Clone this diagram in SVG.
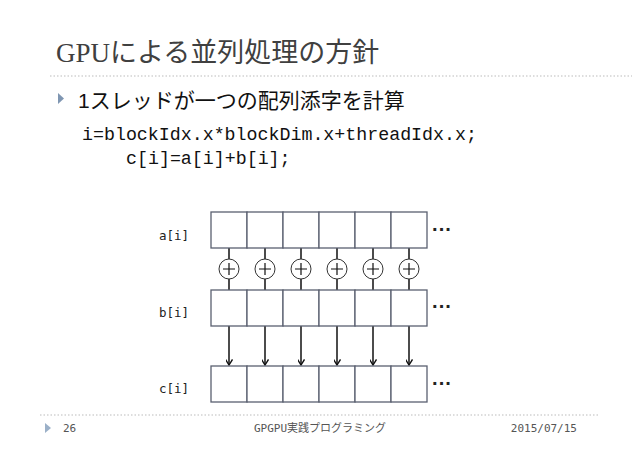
<svg xmlns="http://www.w3.org/2000/svg" width="638" height="452" viewBox="0 0 638 452">
<style>
.cell{fill:#fff;stroke:#5a6070;stroke-width:1.3}
.ln{stroke:#111;stroke-width:1.5;fill:none}
.lbl{font-family:"DejaVu Sans Mono","Liberation Mono",monospace;font-size:12.5px;fill:#222}
.dots{font-family:"Liberation Sans",sans-serif;font-size:20px;font-weight:bold;fill:#222}
.ft{font-family:"DejaVu Sans Mono","Noto Sans CJK JP",monospace;font-size:11px;fill:#555}
</style>
<defs>
<marker id="ah" viewBox="0 0 10 10" refX="9" refY="5" markerWidth="7" markerHeight="7" orient="auto" markerUnits="userSpaceOnUse"><path d="M1,0 L9,5 L1,10" fill="none" stroke="#111" stroke-width="2"/></marker>
<g id="row"><rect class="cell" x="0" y="0" width="36" height="36"/><rect class="cell" x="36" y="0" width="36" height="36"/><rect class="cell" x="72" y="0" width="36" height="36"/><rect class="cell" x="108" y="0" width="36" height="36"/><rect class="cell" x="144" y="0" width="36" height="36"/><rect class="cell" x="180" y="0" width="36" height="36"/></g>
</defs>
<rect width="638" height="452" fill="#fff"/>
<text x="56" y="62" font-family="Liberation Serif,Noto Sans CJK JP,serif" font-size="27" fill="#404040">GPUによる並列処理の方針</text>
<line x1="50" y1="76" x2="632" y2="76" stroke="#bbb" stroke-dasharray="1.5,2"/>
<path d="M58,93 L64,98.5 L58,104 Z" fill="#7f96b2"/>
<text x="78" y="108" font-family="Liberation Sans,Noto Sans CJK JP,sans-serif" font-size="21" fill="#111">1スレッドが一つの配列添字を計算</text>
<text x="82" y="140" font-family="Liberation Mono,DejaVu Sans Mono,monospace" font-size="18.3" fill="#111">i=blockIdx.x*blockDim.x+threadIdx.x;</text>
<text x="126" y="164" font-family="Liberation Mono,DejaVu Sans Mono,monospace" font-size="18.3" fill="#111">c[i]=a[i]+b[i];</text>
<g id="connectors">
<path class="ln" d="M229,248V259M229,279V290M265,248V259M265,279V290M301,248V259M301,279V290M337,248V259M337,279V290M373,248V259M373,279V290M409,248V259M409,279V290"/>
<path class="ln" d="M229,326V365" marker-end="url(#ah)"/><path class="ln" d="M265,326V365" marker-end="url(#ah)"/><path class="ln" d="M301,326V365" marker-end="url(#ah)"/><path class="ln" d="M337,326V365" marker-end="url(#ah)"/><path class="ln" d="M373,326V365" marker-end="url(#ah)"/><path class="ln" d="M409,326V365" marker-end="url(#ah)"/>
</g>
<g id="a"><text class="lbl" x="159" y="240">a[i]</text><use href="#row" x="211" y="212"/><text class="dots" x="432" y="236">···</text></g>
<g id="plus">
<g fill="#fff" stroke="#333" stroke-width="1"><circle cx="229" cy="269" r="10"/><circle cx="265" cy="269" r="10"/><circle cx="301" cy="269" r="10"/><circle cx="337" cy="269" r="10"/><circle cx="373" cy="269" r="10"/><circle cx="409" cy="269" r="10"/></g>
<path stroke="#111" stroke-width="1.2" d="M223,269h12M229,263v12M259,269h12M265,263v12M295,269h12M301,263v12M331,269h12M337,263v12M367,269h12M373,263v12M403,269h12M409,263v12"/>
</g>
<g id="b"><text class="lbl" x="159" y="317">b[i]</text><use href="#row" x="211" y="290"/><text class="dots" x="432" y="313">···</text></g>
<g id="c"><text class="lbl" x="159" y="393">c[i]</text><use href="#row" x="211" y="366"/><text class="dots" x="432" y="390">···</text></g>
<line x1="40" y1="415" x2="600" y2="415" stroke="#bbb" stroke-dasharray="1.5,2"/>
<path d="M45,423 L51,428 L45,433 Z" fill="#9bb0c8"/>
<text class="ft" x="63" y="432">26</text>
<text class="ft" x="320" y="432" text-anchor="middle">GPGPU実践プログラミング</text>
<text class="ft" x="577" y="432" text-anchor="end">2015/07/15</text>
</svg>
